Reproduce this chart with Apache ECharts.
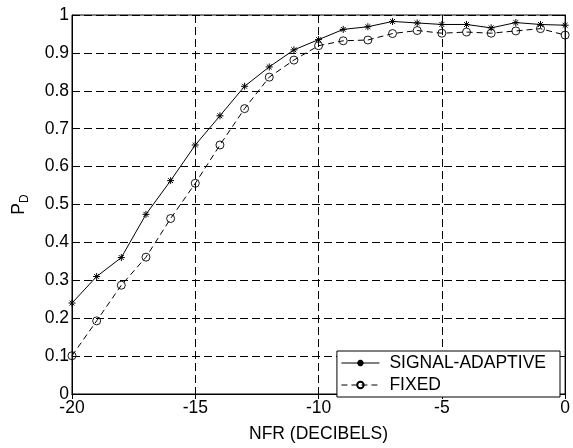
<!DOCTYPE html>
<html>
<head>
<meta charset="utf-8">
<script src="https://cdn.jsdelivr.net/npm/echarts@6/dist/echarts.min.js"></script>
<style>html,body{margin:0;padding:0;background:#fff;}#c{width:573px;height:448px;}</style>
</head>
<body>
<div id="c"></div>
<script>
const nfr = [-20,-19,-18,-17,-16,-15,-14,-13,-12,-11,-10,-9,-8,-7,-6,-5,-4,-3,-2,-1,0];
const signalAdaptive = [0.240,0.310,0.360,0.474,0.563,0.657,0.734,0.812,0.863,0.908,0.935,0.962,0.969,0.983,0.979,0.975,0.975,0.966,0.980,0.975,0.973];
const fixed = [0.101,0.193,0.287,0.361,0.463,0.556,0.657,0.753,0.836,0.881,0.919,0.932,0.934,0.951,0.959,0.952,0.955,0.952,0.958,0.964,0.947];
const xTicks = [-20,-15,-10,-5,0];
const yTicks = [0,0.1,0.2,0.3,0.4,0.5,0.6,0.7,0.8,0.9,1];

const FONT = '"Liberation Sans", Arial, sans-serif';
const FS = 17.5;
const star = 'path://M0,-5L0,5M-5,0L5,0M-3.5,-3.5L3.5,3.5M-3.5,3.5L3.5,-3.5';
const chart = echarts.init(document.getElementById('c'), null, {renderer:'canvas'});
const gridDash = {show:true, lineStyle:{color:'#000', type:[8,4], width:1}};
const baseX = {type:'value', min:-20, max:0, interval:5, gridIndex:0};
const baseY = {type:'value', min:0, max:1, interval:0.1, gridIndex:0};
chart.setOption({
  animation:false,
  backgroundColor:'#fff',
  textStyle:{fontFamily:FONT, color:'#000'},
  grid:{left:72, right:7, top:15, bottom:44, show:true, borderColor:'#000', borderWidth:1, backgroundColor:'transparent'},
  xAxis:[
    Object.assign({}, baseX, {position:'bottom',
      name:'NFR (DECIBELS)', nameLocation:'middle', nameGap:31,
      nameTextStyle:{fontFamily:FONT, fontSize:FS, color:'#000'},
      axisLine:{show:true, onZero:false, lineStyle:{color:'#000'}},
      axisTick:{show:true, inside:true, length:5, lineStyle:{color:'#000'}},
      axisLabel:{fontFamily:FONT, fontSize:FS, color:'#000', margin:5, formatter:v=>xTicks.includes(v)?String(v):''},
      splitLine:gridDash}),
    Object.assign({}, baseX, {position:'top',
      axisLine:{show:true, lineStyle:{color:'#000'}},
      axisTick:{show:true, inside:true, length:5, lineStyle:{color:'#000'}},
      axisLabel:{show:false}, splitLine:{show:false}})
  ],
  yAxis:[
    Object.assign({}, baseY, {position:'left',
      name:'{p|P}{d|D}', nameLocation:'middle', nameGap:41, nameRotate:90,
      nameTextStyle:{rich:{p:{fontFamily:FONT, fontSize:FS, color:'#000'}, d:{fontFamily:FONT, fontSize:12, color:'#000', padding:[11,0,0,0]}}},
      axisLine:{show:true, onZero:false, lineStyle:{color:'#000'}},
      axisTick:{show:true, inside:true, length:5, lineStyle:{color:'#000'}},
      axisLabel:{fontFamily:FONT, fontSize:FS, color:'#000', margin:3, formatter:v=>{const r=Math.round(v*10)/10; return String(r);}},
      splitLine:gridDash}),
    Object.assign({}, baseY, {position:'right',
      axisLine:{show:true, lineStyle:{color:'#000'}},
      axisTick:{show:true, inside:true, length:5, lineStyle:{color:'#000'}},
      axisLabel:{show:false}, splitLine:{show:false}})
  ],
  legend:{
    right:13, bottom:51, orient:'vertical', itemWidth:38, itemHeight:8, itemGap:4,
    padding:[3,14,3,4], borderColor:'#000', borderWidth:1, backgroundColor:'#fff',
    lineStyle:{width:1},
    textStyle:{fontFamily:FONT, fontSize:FS, color:'#000', padding:[0,0,0,5]},
    data:['SIGNAL-ADAPTIVE','FIXED']
  },
  series:[
    {name:'SIGNAL-ADAPTIVE', type:'line', xAxisIndex:0, yAxisIndex:0,
      data:nfr.map((x,i)=>[x, signalAdaptive[i]]),
      symbol:star, symbolSize:7,
      itemStyle:{color:'#000', borderColor:'#000', borderWidth:1},
      lineStyle:{color:'#000', width:1}},
    {name:'FIXED', type:'line', xAxisIndex:0, yAxisIndex:0,
      data:nfr.map((x,i)=>[x, fixed[i]]),
      symbol:'circle', symbolSize:8,
      itemStyle:{color:'rgba(255,255,255,0)', borderColor:'#000', borderWidth:0.9},
      lineStyle:{color:'#000', width:1, type:[6,4]}}
  ]
});
</script>
</body>
</html>
